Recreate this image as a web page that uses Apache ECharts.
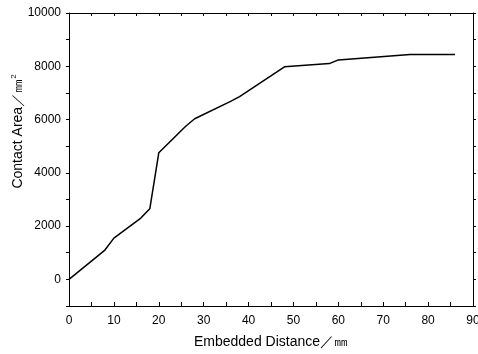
<!DOCTYPE html>
<html><head><meta charset="utf-8">
<script src="https://cdn.jsdelivr.net/npm/echarts@6/dist/echarts.min.js"></script>
<style>html,body{margin:0;padding:0;background:#fff}#c{width:478px;height:354px}</style>
</head><body><div id="c"></div>
<script>
var distance = [0, 8, 10, 16, 18, 20, 26, 28, 36, 38, 48, 58, 60, 76, 86];
var area = [0, 1100, 1550, 2300, 2650, 4750, 5750, 6030, 6680, 6860, 7980, 8100, 8240, 8440, 8440];
var xLabels = ['0','10','20','30','40','50','60','70','80','90'];
var yLabels = ['0','2000','4000','6000','8000','10000'];

var font = 'Liberation Sans, Arial, sans-serif';
var lineStyle = {color: '#000', width: 1};
var chart = echarts.init(document.getElementById('c'));
chart.setOption({
  animation: false,
  grid: {left: 69, right: 5, top: 13, bottom: 48, containLabel: false, outerBoundsMode: 'none'},
  xAxis: [{
    type: 'value', min: 0, max: 90, interval: 5,
    axisLine: {onZero: false, lineStyle: lineStyle},
    axisTick: {inside: true, length: 4, lineStyle: lineStyle},
    splitLine: {show: false},
    axisLabel: {fontFamily: font, fontSize: 12, color: '#000', margin: 9,
      formatter: function (v) { return xLabels.indexOf(String(v)) >= 0 ? String(v) : ''; }},
    name: 'Embedded Distance／㎜', nameLocation: 'middle', nameGap: 29, nameMoveOverlap: false,
    nameTextStyle: {fontFamily: font, fontSize: 14, color: '#000'}
  }, {
    type: 'value', min: 0, max: 90, interval: 5, position: 'top',
    axisLine: {onZero: false, lineStyle: lineStyle},
    axisTick: {inside: true, length: 3, lineStyle: lineStyle},
    axisLabel: {show: false}, splitLine: {show: false}
  }],
  yAxis: [{
    type: 'value', min: -1000, max: 10000, interval: 1000,
    axisLine: {onZero: false, lineStyle: lineStyle},
    axisTick: {inside: false, length: 3, lineStyle: lineStyle},
    splitLine: {show: false},
    axisLabel: {fontFamily: font, fontSize: 12, color: '#000', margin: 8,
      formatter: function (v) { return yLabels.indexOf(String(v)) >= 0 ? String(v) : ''; }},
    name: '{n|Contact Area／㎜}{s|2}', nameLocation: 'middle', nameGap: 43, nameMoveOverlap: false,
    nameTextStyle: {fontFamily: font, fontSize: 14, color: '#000', padding: [0, 0, 0, 56],
      rich: {n: {fontFamily: font, fontSize: 14, color: '#000'},
             s: {fontFamily: font, fontSize: 8, color: '#000', verticalAlign: 'top', padding: [0,0,8,0]}}}
  }, {
    type: 'value', min: -1000, max: 10000, interval: 1000, position: 'right',
    axisLine: {onZero: false, lineStyle: lineStyle},
    axisTick: {inside: false, length: 3, lineStyle: lineStyle},
    axisLabel: {show: false}, splitLine: {show: false}
  }],
  series: [{
    type: 'line', xAxisIndex: 0, yAxisIndex: 0,
    data: distance.map(function (d, i) { return [d, area[i]]; }),
    showSymbol: false, lineStyle: {color: '#000', width: 1.5}
  }]
});
</script></body></html>
